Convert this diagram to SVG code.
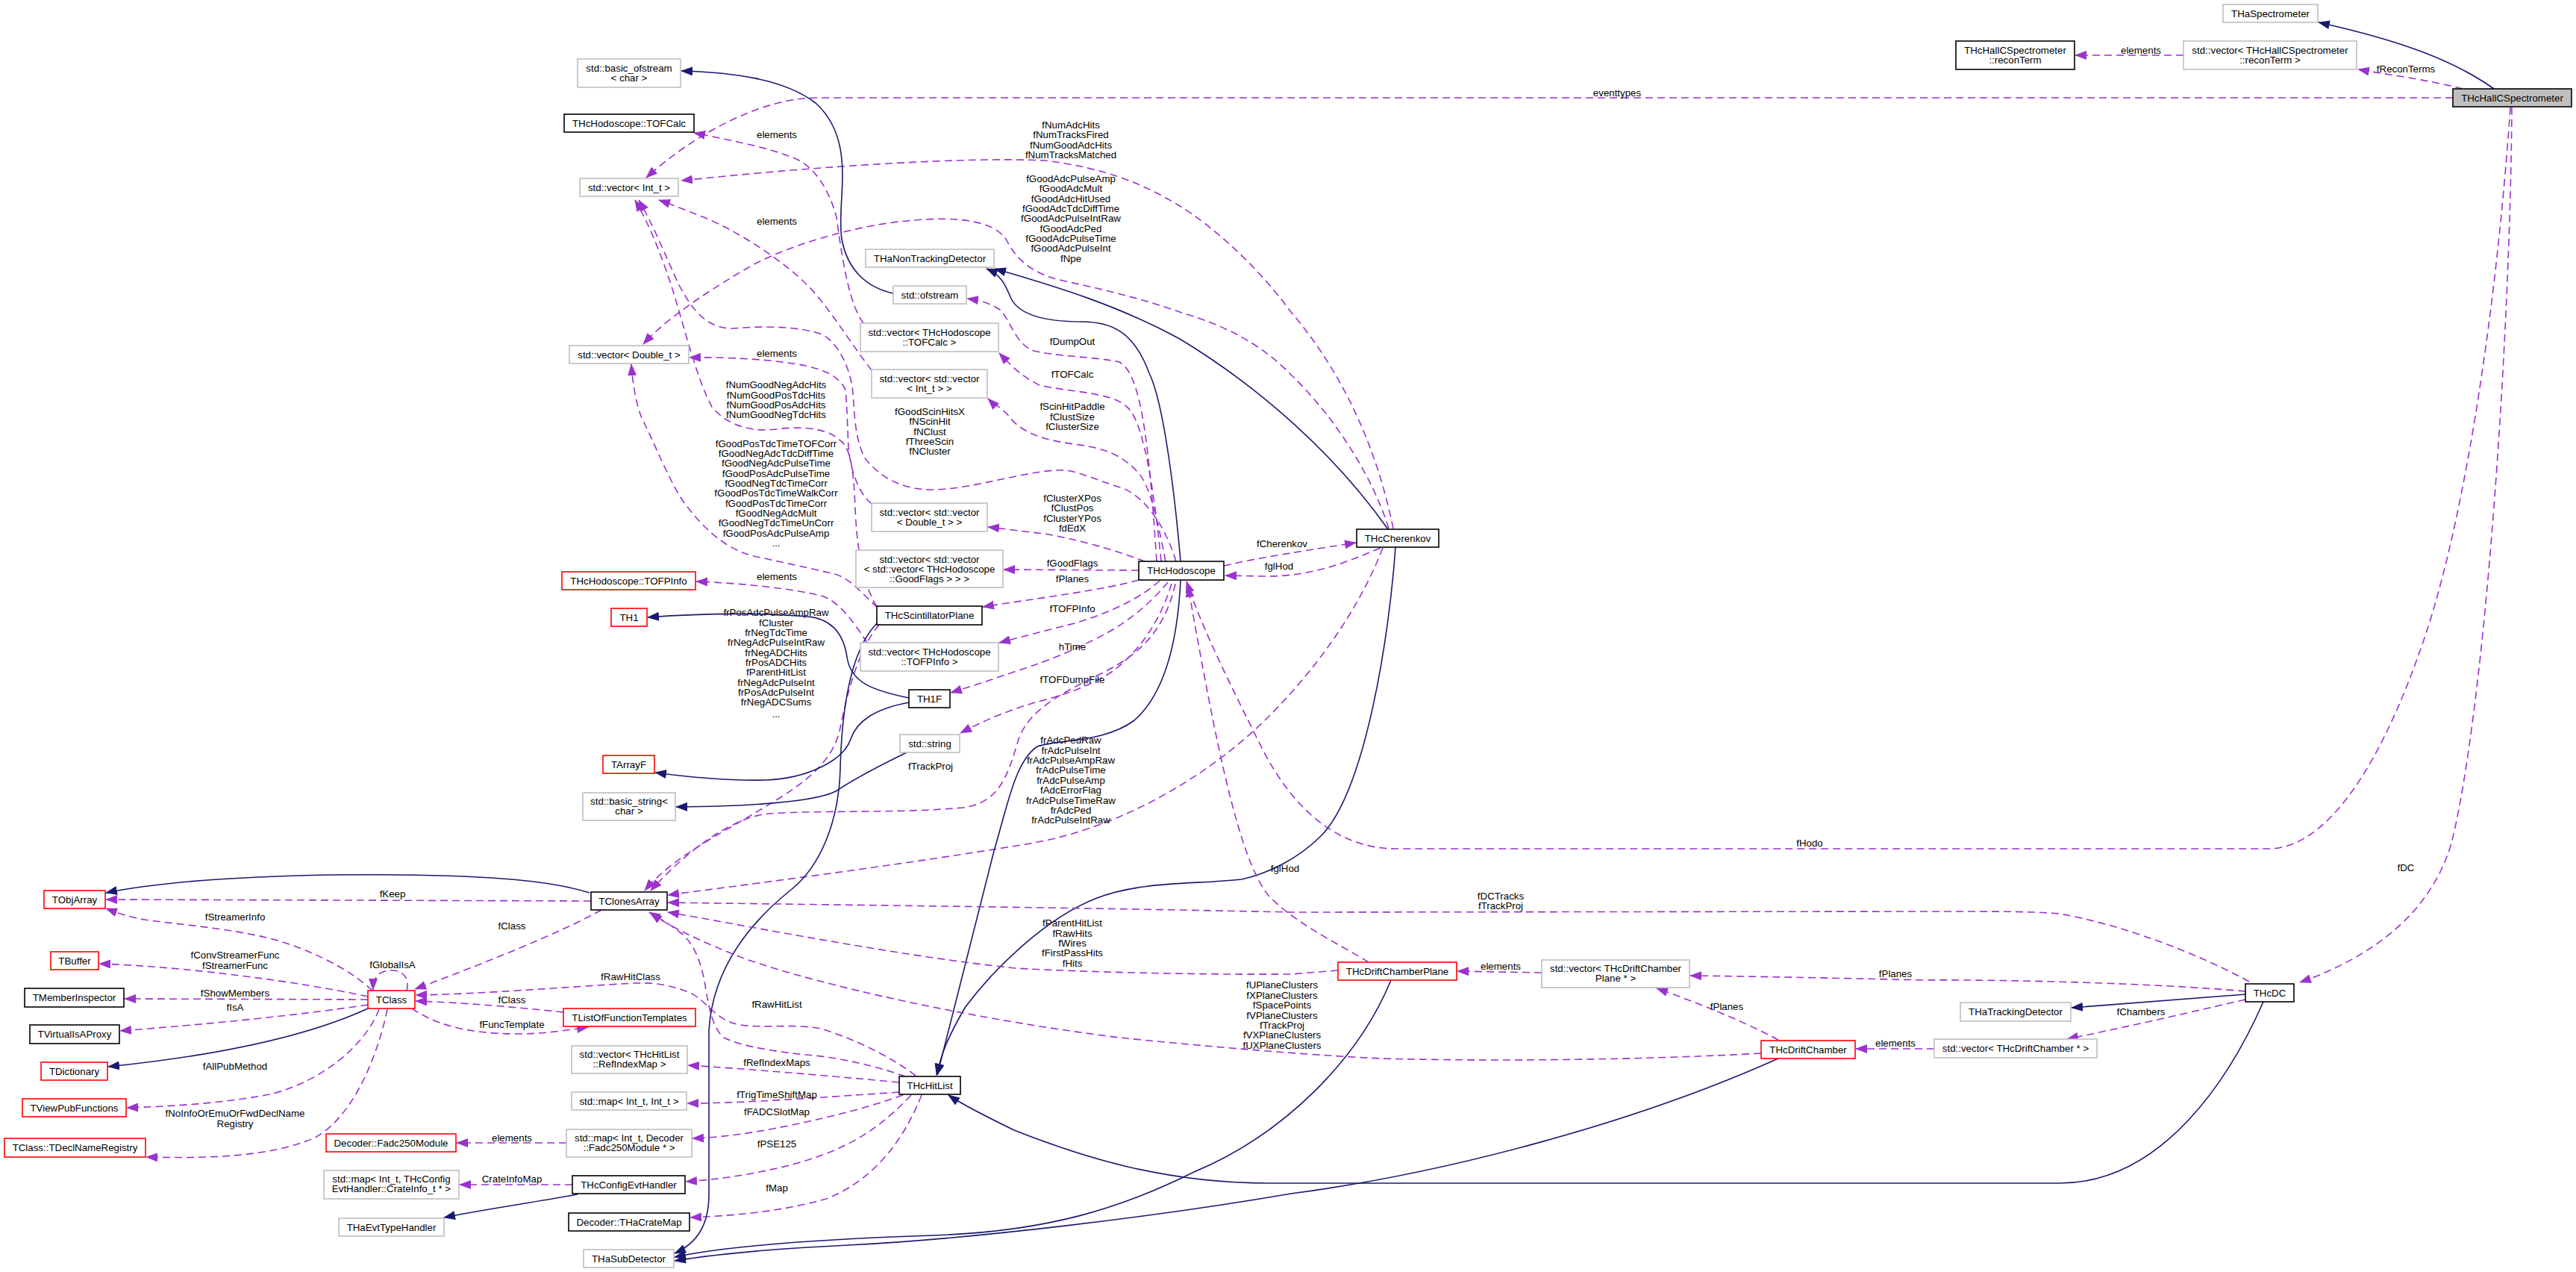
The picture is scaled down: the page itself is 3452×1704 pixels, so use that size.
<svg xmlns="http://www.w3.org/2000/svg" width="3452" height="1704" viewBox="0 0 3452 1704">
<style>
text{font-family:"Liberation Sans",Arial,Helvetica,sans-serif;font-size:13.3px;fill:#000}
.n text{text-anchor:middle}
.l{text-anchor:middle}
.n rect{fill:#fff;stroke-width:1.6}
.g rect{stroke:#bfbfbf}
.k rect{stroke:#000}
.r rect{stroke:#f00}
.m rect{fill:#bfbfbf;stroke:#000}
.d{fill:none;stroke:#9a32cd;stroke-width:1.6;stroke-dasharray:10,6;marker-end:url(#ap)}
.s{fill:none;stroke:#191970;stroke-width:1.6;marker-end:url(#ab)}
</style>
<defs>
<marker id="ap" markerUnits="userSpaceOnUse" markerWidth="16" markerHeight="12" viewBox="0 0 16 12" refX="15" refY="6" orient="auto"><path d="M0,0 L16,6 L0,12 z" fill="#9a32cd"/></marker>
<marker id="ab" markerUnits="userSpaceOnUse" markerWidth="16" markerHeight="12" viewBox="0 0 16 12" refX="15" refY="6" orient="auto"><path d="M0,0 L16,6 L0,12 z" fill="#191970"/></marker>
</defs>
<rect width="3452" height="1704" fill="#fff"/>
<g id="edges">
<path class="s" d="M3342,119 C3290,82 3220,55 3107,30"/>
<path class="d" d="M3300,119 C3260,108 3200,100 3160,93"/>
<text class="l" x="3224" y="97">fReconTerms</text>
<path class="d" d="M2926,74 L2781,74"/>
<text class="l" x="2869" y="72">elements</text>
<path class="d" d="M3287,131 L1095,131 C1020,131 930,180 866,238"/>
<text class="l" x="2167" y="129">eventtypes</text>
<path class="d" d="M3364,144 C3345,420 3300,720 3240,880 C3190,1020 3120,1137 3040,1137 L1870,1137 C1790,1137 1730,1080 1690,1000 C1650,920 1610,840 1590,779"/>
<text class="l" x="2425" y="1134">fHodo</text>
<path class="d" d="M3366,144 C3364,450 3330,950 3285,1130 C3255,1230 3170,1285 3082,1316"/>
<text class="l" x="3224" y="1167">fDC</text>
<path class="d" d="M1640,758 C1680,748 1760,736 1817,727"/>
<text class="l" x="1718" y="733">fCherenkov</text>
<path class="d" d="M1850,734 C1800,755 1760,771 1700,772 L1642,771"/>
<text class="l" x="1714" y="763">fglHod</text>
<path class="s" d="M1860,709 C1790,610 1690,520 1581,454 C1500,410 1420,385 1333,360"/>
<path class="s" d="M1582,752 C1575,670 1560,540 1540,500 C1520,445 1490,431 1450,431 C1395,431 1365,420 1355,400 C1346,378 1340,368 1322,360"/>
<path class="d" d="M1867,708 C1845,600 1800,500 1730,418 C1680,350 1620,300 1581,276 C1530,245 1480,225 1400,215 C1300,210 1100,222 913,242"/>
<text class="l" x="1435" y="172">fNumAdcHits</text>
<text class="l" x="1435" y="185">fNumTracksFired</text>
<text class="l" x="1435" y="199">fNumGoodAdcHits</text>
<text class="l" x="1435" y="212">fNumTracksMatched</text>
<path class="d" d="M1861,708 C1840,640 1790,560 1730,502 C1680,450 1620,430 1581,418 C1530,400 1480,388 1420,375 C1380,365 1360,345 1348,320 C1330,295 1280,290 1226,295 C1150,300 1050,330 1000,360 C940,395 890,430 862,461"/>
<text class="l" x="1435" y="244">fGoodAdcPulseAmp</text>
<text class="l" x="1435" y="257">fGoodAdcMult</text>
<text class="l" x="1435" y="271">fGoodAdcHitUsed</text>
<text class="l" x="1435" y="284">fGoodAdcTdcDiffTime</text>
<text class="l" x="1435" y="297">fGoodAdcPulseIntRaw</text>
<text class="l" x="1435" y="311">fGoodAdcPed</text>
<text class="l" x="1435" y="324">fGoodAdcPulseTime</text>
<text class="l" x="1435" y="337">fGoodAdcPulseInt</text>
<text class="l" x="1435" y="351">fNpe</text>
<path class="d" d="M1853,734 C1820,820 1760,900 1700,960 C1620,1040 1500,1110 1380,1130 C1200,1160 1000,1185 895,1199"/>
<text class="l" x="1435" y="996">frAdcPedRaw</text>
<text class="l" x="1435" y="1010">frAdcPulseInt</text>
<text class="l" x="1435" y="1023">frAdcPulseAmpRaw</text>
<text class="l" x="1435" y="1036">frAdcPulseTime</text>
<text class="l" x="1435" y="1050">frAdcPulseAmp</text>
<text class="l" x="1435" y="1063">fAdcErrorFlag</text>
<text class="l" x="1435" y="1077">frAdcPulseTimeRaw</text>
<text class="l" x="1435" y="1090">frAdcPed</text>
<text class="l" x="1435" y="1103">frAdcPulseIntRaw</text>
<path class="d" d="M1550,752 C1540,600 1530,500 1500,485 C1470,478 1420,478 1385,470 C1360,460 1355,430 1340,415 C1325,405 1310,402 1296,400"/>
<text class="l" x="1437" y="462">fDumpOut</text>
<path class="d" d="M1556,752 C1545,640 1530,560 1510,545 C1490,525 1430,525 1393,516 C1370,505 1355,490 1339,473"/>
<text class="l" x="1437" y="506">fTOFCalc</text>
<path class="d" d="M1562,752 C1550,690 1540,650 1526,634 C1505,610 1480,600 1440,595 C1400,590 1370,580 1354,560 C1345,548 1330,540 1324,534"/>
<text class="l" x="1437" y="549">fScinHitPaddle</text>
<text class="l" x="1437" y="563">fClustSize</text>
<text class="l" x="1437" y="576">fClusterSize</text>
<path class="d" d="M1576,752 C1560,700 1530,660 1498,652 C1460,640 1440,628 1415,630 C1370,632 1300,656 1248,656 C1210,656 1180,640 1160,615 C1145,590 1145,550 1143,527 C1140,490 1120,455 1099,447 C1070,438 1030,436 982,440 C950,440 930,420 910,382 C895,350 875,300 856,268"/>
<text class="l" x="1246" y="556">fGoodScinHitsX</text>
<text class="l" x="1246" y="569">fNScinHit</text>
<text class="l" x="1246" y="583">fNClust</text>
<text class="l" x="1246" y="596">fThreeScin</text>
<text class="l" x="1246" y="609">fNCluster</text>
<path class="d" d="M1175,813 C1155,780 1148,730 1146,680 C1144,630 1140,600 1126,590 C1110,575 1080,570 1040,575 C1000,580 970,565 954,545 C935,510 920,450 905,400 C890,350 870,300 851,268"/>
<text class="l" x="1040" y="520">fNumGoodNegAdcHits</text>
<text class="l" x="1040" y="534">fNumGoodPosTdcHits</text>
<text class="l" x="1040" y="547">fNumGoodPosAdcHits</text>
<text class="l" x="1040" y="560">fNumGoodNegTdcHits</text>
<path class="d" d="M1176,814 C1150,790 1135,770 1110,767 C1080,760 1043,752 1010,745 C970,735 940,705 915,671 C895,640 880,600 860,560 C852,540 848,515 846,488"/>
<text class="l" x="1040" y="599">fGoodPosTdcTimeTOFCorr</text>
<text class="l" x="1040" y="612">fGoodNegAdcTdcDiffTime</text>
<text class="l" x="1040" y="625">fGoodNegAdcPulseTime</text>
<text class="l" x="1040" y="639">fGoodPosAdcPulseTime</text>
<text class="l" x="1040" y="652">fGoodNegTdcTimeCorr</text>
<text class="l" x="1040" y="665">fGoodPosTdcTimeWalkCorr</text>
<text class="l" x="1040" y="679">fGoodPosTdcTimeCorr</text>
<text class="l" x="1040" y="692">fGoodNegAdcMult</text>
<text class="l" x="1040" y="705">fGoodNegTdcTimeUnCorr</text>
<text class="l" x="1040" y="719">fGoodPosAdcPulseAmp</text>
<text class="l" x="1040" y="732">...</text>
<path class="d" d="M1168,496 C1140,460 1110,410 1082,382 C1050,350 990,310 943,291 C915,280 895,272 883,268"/>
<text class="l" x="1041" y="301">elements</text>
<path class="d" d="M1168,675 C1150,660 1140,630 1137,600 C1135,560 1135,530 1132,520 C1120,500 1100,495 1080,490 C1040,482 980,478 924,479"/>
<text class="l" x="1041" y="478">elements</text>
<path class="d" d="M1157,433 C1140,410 1130,360 1121,291 C1110,250 1090,225 1071,215 C1040,200 990,190 930,178"/>
<text class="l" x="1041" y="185">elements</text>
<path class="s" d="M1197,393 C1160,385 1135,360 1128,320 C1120,270 1150,190 1093,138 C1050,105 980,97 913,95"/>
<path class="d" d="M1162,861 C1145,835 1125,805 1100,798 C1060,788 990,781 933,779"/>
<text class="l" x="1041" y="777">elements</text>
<path class="d" d="M1526,764 L1345,763"/>
<text class="l" x="1437" y="759">fGoodFlags</text>
<path class="d" d="M1534,752 C1490,735 1440,722 1400,715 C1370,712 1345,708 1324,706"/>
<text class="l" x="1437" y="672">fClusterXPos</text>
<text class="l" x="1437" y="685">fClustPos</text>
<text class="l" x="1437" y="699">fClusterYPos</text>
<text class="l" x="1437" y="712">fdEdX</text>
<path class="d" d="M1526,777 C1480,790 1400,800 1317,813"/>
<text class="l" x="1437" y="780">fPlanes</text>
<path class="d" d="M1554,778 C1530,800 1490,820 1440,835 C1400,845 1370,853 1339,861"/>
<text class="l" x="1437" y="820">fTOFPInfo</text>
<path class="d" d="M1565,780 C1540,810 1510,835 1470,855 C1420,880 1390,890 1359,900 C1330,910 1300,920 1274,928"/>
<text class="l" x="1437" y="871">hTime</text>
<path class="d" d="M1570,782 C1555,830 1530,870 1490,900 C1450,925 1410,935 1387,941 C1340,955 1310,970 1287,982"/>
<text class="l" x="1437" y="915">fTOFDumpFile</text>
<path class="d" d="M1575,782 C1560,850 1520,880 1480,900 C1420,930 1380,950 1365,990 C1350,1040 1340,1075 1290,1082 C1200,1090 1100,1085 1030,1090 C980,1095 920,1140 872,1193"/>
<text class="l" x="1247" y="1031">fTrackProj</text>
<path class="d" d="M1178,837 C1150,870 1135,930 1126,975 C1115,1030 1060,1060 1010,1090 C960,1120 900,1150 864,1193"/>
<text class="l" x="1040" y="825">frPosAdcPulseAmpRaw</text>
<text class="l" x="1040" y="839">fCluster</text>
<text class="l" x="1040" y="852">frNegTdcTime</text>
<text class="l" x="1040" y="865">frNegAdcPulseIntRaw</text>
<text class="l" x="1040" y="879">frNegADCHits</text>
<text class="l" x="1040" y="892">frPosADCHits</text>
<text class="l" x="1040" y="905">fParentHitList</text>
<text class="l" x="1040" y="919">frNegAdcPulseInt</text>
<text class="l" x="1040" y="932">frPosAdcPulseInt</text>
<text class="l" x="1040" y="945">frNegADCSums</text>
<text class="l" x="1040" y="961">...</text>
<path class="s" d="M1218,935 C1170,925 1140,915 1135,880 C1130,845 1110,828 1082,826 C1040,822 960,820 868,827"/>
<path class="s" d="M1218,941 C1170,950 1148,967 1140,990 C1130,1020 1080,1043 1026,1045 C980,1046 930,1042 878,1035"/>
<path class="s" d="M1215,1008 C1180,1025 1150,1040 1120,1060 C1090,1075 1000,1080 906,1081"/>
<path class="s" d="M790,1196 C740,1180 650,1170 444,1172 C330,1174 220,1180 142,1196"/>
<path class="d" d="M792,1207 L142,1205"/>
<text class="l" x="526" y="1202">fKeep</text>
<path class="d" d="M806,1219 C750,1250 650,1290 556,1325"/>
<text class="l" x="686" y="1245">fClass</text>
<path class="d" d="M499,1327 C470,1300 430,1280 388,1265 C330,1245 250,1240 194,1232 C170,1228 155,1222 142,1217"/>
<text class="l" x="315" y="1233">fStreamerInfo</text>
<path class="d" d="M493,1335 C400,1315 250,1295 133,1291"/>
<text class="l" x="315" y="1284">fConvStreamerFunc</text>
<text class="l" x="315" y="1298">fStreamerFunc</text>
<path class="d" d="M493,1339 L167,1338"/>
<text class="l" x="315" y="1335">fShowMembers</text>
<path class="d" d="M493,1346 C400,1360 280,1372 161,1381"/>
<text class="l" x="315" y="1354">fIsA</text>
<path class="s" d="M493,1351 C430,1380 330,1410 145,1429"/>
<path class="d" d="M508,1352 C490,1400 430,1450 361,1466 C300,1478 230,1482 170,1484"/>
<text class="l" x="315" y="1433">fAllPubMethod</text>
<path class="d" d="M519,1352 C505,1420 470,1500 420,1525 C360,1550 280,1552 196,1550"/>
<text class="l" x="315" y="1496">fNoInfoOrEmuOrFwdDeclName</text>
<text class="l" x="315" y="1510">Registry</text>
<path class="d" d="M545,1327 C550,1305 535,1300 525,1300 C512,1300 500,1305 500,1326"/>
<text class="l" x="526" y="1297">fGlobalIsA</text>
<path class="d" d="M755,1356 C700,1350 620,1343 557,1341"/>
<text class="l" x="686" y="1344">fClass</text>
<path class="d" d="M552,1351 C580,1370 620,1385 694,1385 C730,1385 760,1380 788,1376"/>
<text class="l" x="686" y="1377">fFuncTemplate</text>
<path class="d" d="M1227,1441 C1200,1420 1150,1393 1100,1378 C1060,1370 1010,1380 980,1370 C955,1360 945,1340 925,1330 C900,1320 880,1316 850,1317 C760,1322 640,1332 557,1333"/>
<text class="l" x="845" y="1313">fRawHitClass</text>
<path class="d" d="M1213,1442 C1180,1430 1130,1417 1080,1413 C1030,1408 990,1400 970,1390 C955,1378 950,1350 945,1320 C940,1290 930,1262 910,1248 C895,1236 880,1228 870,1222"/>
<text class="l" x="1041" y="1350">fRawHitList</text>
<path class="d" d="M1205,1450 C1100,1440 1000,1432 922,1427"/>
<text class="l" x="1041" y="1428">fRefIndexMaps</text>
<path class="d" d="M1205,1463 C1100,1470 1000,1478 921,1478"/>
<text class="l" x="1041" y="1471">fTrigTimeShiftMap</text>
<path class="d" d="M1210,1467 C1160,1485 1100,1500 1026,1514 C990,1520 960,1524 928,1525"/>
<text class="l" x="1041" y="1494">fFADCSlotMap</text>
<path class="d" d="M1221,1467 C1180,1510 1140,1540 1054,1562 C1000,1575 960,1580 919,1583"/>
<text class="l" x="1041" y="1537">fPSE125</text>
<path class="d" d="M1235,1467 C1210,1530 1170,1580 1110,1605 C1060,1620 1000,1628 925,1631"/>
<text class="l" x="1041" y="1596">fMap</text>
<path class="d" d="M759,1531 L612,1531"/>
<text class="l" x="686" y="1529">elements</text>
<path class="d" d="M767,1587 L616,1587"/>
<text class="l" x="686" y="1584">CrateInfoMap</text>
<path class="s" d="M774,1600 C720,1610 650,1620 595,1631"/>
<path class="s" d="M1582,778 C1578,860 1560,930 1520,965 C1480,995 1420,990 1390,1000 C1360,1020 1350,1080 1332,1140 L1256,1440"/>
<path class="s" d="M1870,733 C1862,850 1830,1060 1770,1120 C1740,1150 1700,1170 1664,1178 C1600,1185 1530,1180 1470,1203 C1400,1230 1330,1300 1293,1350 C1270,1390 1262,1410 1255,1440"/>
<path class="s" d="M3033,1342 C2990,1440 2900,1585 2760,1585 L1700,1585 C1560,1585 1450,1550 1359,1514 C1320,1495 1290,1480 1271,1467"/>
<path class="s" d="M1176,834 C1140,870 1128,950 1126,1030 C1124,1100 1100,1160 1060,1192 C1000,1240 955,1300 950,1380 L950,1600 C950,1640 935,1665 904,1679"/>
<path class="s" d="M1864,1313 C1820,1420 1720,1520 1600,1570 C1500,1620 1400,1650 1250,1655 C1100,1660 980,1668 904,1684"/>
<path class="s" d="M2383,1418 C2200,1500 1950,1570 1730,1599 C1550,1630 1300,1660 1137,1668 C1050,1672 960,1680 904,1689"/>
<path class="d" d="M3014,1315 C2950,1280 2850,1240 2760,1224 C2720,1221 2700,1221 2580,1221 L1730,1222 C1400,1215 1100,1212 895,1209"/>
<text class="l" x="2011" y="1205">fDCTracks</text>
<text class="l" x="2011" y="1218">fTrackProj</text>
<path class="d" d="M1793,1300 L1730,1305 C1600,1306 1450,1302 1360,1297 C1200,1280 1000,1240 895,1222"/>
<text class="l" x="1437" y="1241">fParentHitList</text>
<text class="l" x="1437" y="1255">fRawHits</text>
<text class="l" x="1437" y="1268">fWires</text>
<text class="l" x="1437" y="1281">fFirstPassHits</text>
<text class="l" x="1437" y="1295">fHits</text>
<path class="d" d="M2360,1411 C2200,1420 2000,1422 1850,1418 C1730,1412 1600,1400 1500,1390 C1300,1365 1100,1320 1000,1285 C940,1262 895,1240 872,1223"/>
<text class="l" x="1718" y="1324">fUPlaneClusters</text>
<text class="l" x="1718" y="1338">fXPlaneClusters</text>
<text class="l" x="1718" y="1351">fSpacePoints</text>
<text class="l" x="1718" y="1365">fVPlaneClusters</text>
<text class="l" x="1718" y="1378">fTrackProj</text>
<text class="l" x="1718" y="1391">fVXPlaneClusters</text>
<text class="l" x="1718" y="1405">fUXPlaneClusters</text>
<path class="d" d="M1834,1289 C1790,1262 1740,1240 1700,1200 C1660,1150 1630,1000 1592,785"/>
<text class="l" x="1722" y="1168">fglHod</text>
<path class="d" d="M2383,1393 C2340,1370 2280,1345 2220,1324"/>
<text class="l" x="2314" y="1353">fPlanes</text>
<path class="d" d="M3009,1328 C2900,1318 2700,1312 2580,1313 C2450,1310 2350,1308 2265,1307"/>
<text class="l" x="2540" y="1309">fPlanes</text>
<path class="d" d="M2066,1303 L1953,1301"/>
<text class="l" x="2011" y="1299">elements</text>
<path class="s" d="M3009,1332 L2776,1350"/>
<path class="d" d="M3009,1339 C2960,1350 2900,1365 2770,1392"/>
<text class="l" x="2869" y="1360">fChambers</text>
<path class="d" d="M2592,1405 L2487,1405"/>
<text class="l" x="2540" y="1402">elements</text>
</g>
<g id="THcHallCSpectrometer" class="n m"><rect x="3287" y="119" width="159" height="24"/><text x="3366.5" y="136">THcHallCSpectrometer</text></g>
<g id="THaSpectrometer" class="n g"><rect x="2979" y="6" width="127" height="24"/><text x="3042.5" y="23">THaSpectrometer</text></g>
<g id="vec_reconTerm" class="n g"><rect x="2926" y="55" width="232" height="38"/><text x="3042" y="72">std::vector&lt; THcHallCSpectrometer</text><text x="3042" y="85">::reconTerm &gt;</text></g>
<g id="reconTerm" class="n k"><rect x="2621" y="55" width="159" height="38"/><text x="2700.5" y="72">THcHallCSpectrometer</text><text x="2700.5" y="85">::reconTerm</text></g>
<g id="vec_Int_t" class="n g"><rect x="777" y="239" width="132" height="24"/><text x="843" y="256">std::vector&lt; Int_t &gt;</text></g>
<g id="THcHodoscope" class="n k"><rect x="1526" y="752" width="114" height="25"/><text x="1583" y="769">THcHodoscope</text></g>
<g id="THcCherenkov" class="n k"><rect x="1818" y="709" width="110" height="24"/><text x="1873" y="726">THcCherenkov</text></g>
<g id="THcDC" class="n k"><rect x="3009" y="1318" width="65" height="24"/><text x="3041.5" y="1335">THcDC</text></g>
<g id="THaNonTrackingDetector" class="n g"><rect x="1160" y="334" width="172" height="24"/><text x="1246" y="351">THaNonTrackingDetector</text></g>
<g id="std_ofstream" class="n g"><rect x="1197" y="383" width="98" height="24"/><text x="1246" y="400">std::ofstream</text></g>
<g id="basic_ofstream" class="n g"><rect x="774" y="79" width="138" height="38"/><text x="843" y="96">std::basic_ofstream</text><text x="843" y="109">&lt; char &gt;</text></g>
<g id="vec_TOFCalc" class="n g"><rect x="1153" y="433" width="185" height="38"/><text x="1245.5" y="450">std::vector&lt; THcHodoscope</text><text x="1245.5" y="463">::TOFCalc &gt;</text></g>
<g id="TOFCalc" class="n k"><rect x="756" y="153" width="174" height="24"/><text x="843" y="170">THcHodoscope::TOFCalc</text></g>
<g id="vec_vec_Int_t" class="n g"><rect x="1168" y="495" width="155" height="38"/><text x="1245.5" y="512">std::vector&lt; std::vector</text><text x="1245.5" y="525">&lt; Int_t &gt; &gt;</text></g>
<g id="vec_Double_t" class="n g"><rect x="763" y="463" width="160" height="24"/><text x="843" y="480">std::vector&lt; Double_t &gt;</text></g>
<g id="vec_vec_Double_t" class="n g"><rect x="1168" y="674" width="155" height="38"/><text x="1245.5" y="691">std::vector&lt; std::vector</text><text x="1245.5" y="704">&lt; Double_t &gt; &gt;</text></g>
<g id="vec_GoodFlags" class="n g"><rect x="1147" y="737" width="197" height="50"/><text x="1245.5" y="754">std::vector&lt; std::vector</text><text x="1245.5" y="767">&lt; std::vector&lt; THcHodoscope</text><text x="1245.5" y="780">::GoodFlags &gt; &gt; &gt;</text></g>
<g id="THcScintillatorPlane" class="n k"><rect x="1175" y="812" width="141" height="25"/><text x="1245.5" y="829">THcScintillatorPlane</text></g>
<g id="vec_TOFPInfo" class="n g"><rect x="1153" y="861" width="185" height="38"/><text x="1245.5" y="878">std::vector&lt; THcHodoscope</text><text x="1245.5" y="891">::TOFPInfo &gt;</text></g>
<g id="TOFPInfo" class="n r"><rect x="753" y="766" width="179" height="24"/><text x="842.5" y="783">THcHodoscope::TOFPInfo</text></g>
<g id="TH1" class="n r"><rect x="819" y="815" width="48" height="24"/><text x="843" y="832">TH1</text></g>
<g id="TH1F" class="n k"><rect x="1218" y="924" width="55" height="24"/><text x="1245.5" y="941">TH1F</text></g>
<g id="TArrayF" class="n r"><rect x="808" y="1012" width="69" height="24"/><text x="842.5" y="1029">TArrayF</text></g>
<g id="std_string" class="n g"><rect x="1206" y="984" width="80" height="24"/><text x="1246" y="1001">std::string</text></g>
<g id="basic_string" class="n g"><rect x="781" y="1062" width="124" height="37"/><text x="843" y="1078">std::basic_string&lt;</text><text x="843" y="1091">char &gt;</text></g>
<g id="TClonesArray" class="n k"><rect x="792" y="1195" width="102" height="24"/><text x="843" y="1212">TClonesArray</text></g>
<g id="TObjArray" class="n r"><rect x="59" y="1193" width="82" height="24"/><text x="100" y="1210">TObjArray</text></g>
<g id="TClass" class="n r"><rect x="493" y="1327" width="63" height="24"/><text x="524.5" y="1344">TClass</text></g>
<g id="TBuffer" class="n r"><rect x="68" y="1275" width="64" height="24"/><text x="100" y="1292">TBuffer</text></g>
<g id="TMemberInspector" class="n k"><rect x="33" y="1324" width="133" height="25"/><text x="99.5" y="1341">TMemberInspector</text></g>
<g id="TVirtualIsAProxy" class="n k"><rect x="40" y="1373" width="120" height="25"/><text x="100" y="1390">TVirtualIsAProxy</text></g>
<g id="TDictionary" class="n r"><rect x="55" y="1423" width="89" height="24"/><text x="99.5" y="1440">TDictionary</text></g>
<g id="TViewPubFunctions" class="n r"><rect x="30" y="1472" width="139" height="24"/><text x="99.5" y="1489">TViewPubFunctions</text></g>
<g id="TDeclNameRegistry" class="n r"><rect x="6" y="1525" width="189" height="25"/><text x="100.5" y="1542">TClass::TDeclNameRegistry</text></g>
<g id="TListOfFunctionTemplates" class="n r"><rect x="755" y="1351" width="177" height="24"/><text x="843.5" y="1368">TListOfFunctionTemplates</text></g>
<g id="THcHitList" class="n k"><rect x="1205" y="1442" width="82" height="24"/><text x="1246" y="1459">THcHitList</text></g>
<g id="vec_RefIndexMap" class="n g"><rect x="766" y="1401" width="155" height="37"/><text x="843.5" y="1417">std::vector&lt; THcHitList</text><text x="843.5" y="1430">::RefIndexMap &gt;</text></g>
<g id="map_Int_Int" class="n g"><rect x="766" y="1463" width="154" height="24"/><text x="843" y="1480">std::map&lt; Int_t, Int_t &gt;</text></g>
<g id="map_Fadc" class="n g"><rect x="759" y="1513" width="168" height="37"/><text x="843" y="1529">std::map&lt; Int_t, Decoder</text><text x="843" y="1542">::Fadc250Module * &gt;</text></g>
<g id="Fadc250Module" class="n r"><rect x="437" y="1519" width="174" height="24"/><text x="524" y="1536">Decoder::Fadc250Module</text></g>
<g id="THcConfigEvtHandler" class="n k"><rect x="767" y="1575" width="151" height="24"/><text x="842.5" y="1592">THcConfigEvtHandler</text></g>
<g id="map_CrateInfo" class="n g"><rect x="434" y="1568" width="181" height="38"/><text x="524.5" y="1584">std::map&lt; Int_t, THcConfig</text><text x="524.5" y="1597">EvtHandler::CrateInfo_t * &gt;</text></g>
<g id="THaEvtTypeHandler" class="n g"><rect x="454" y="1632" width="141" height="24"/><text x="524.5" y="1649">THaEvtTypeHandler</text></g>
<g id="THaCrateMap" class="n k"><rect x="762" y="1625" width="162" height="24"/><text x="843" y="1642">Decoder::THaCrateMap</text></g>
<g id="THaSubDetector" class="n g"><rect x="782" y="1674" width="121" height="24"/><text x="842.5" y="1691">THaSubDetector</text></g>
<g id="THcDriftChamberPlane" class="n r"><rect x="1793" y="1289" width="159" height="24"/><text x="1872.5" y="1306">THcDriftChamberPlane</text></g>
<g id="vec_DCPlane" class="n g"><rect x="2066" y="1286" width="198" height="37"/><text x="2165" y="1302">std::vector&lt; THcDriftChamber</text><text x="2165" y="1315">Plane * &gt;</text></g>
<g id="THcDriftChamber" class="n r"><rect x="2360" y="1394" width="126" height="24"/><text x="2423" y="1411">THcDriftChamber</text></g>
<g id="THaTrackingDetector" class="n g"><rect x="2627" y="1343" width="148" height="25"/><text x="2701" y="1360">THaTrackingDetector</text></g>
<g id="vec_DC" class="n g"><rect x="2592" y="1392" width="218" height="25"/><text x="2701" y="1409">std::vector&lt; THcDriftChamber * &gt;</text></g>
</svg>
